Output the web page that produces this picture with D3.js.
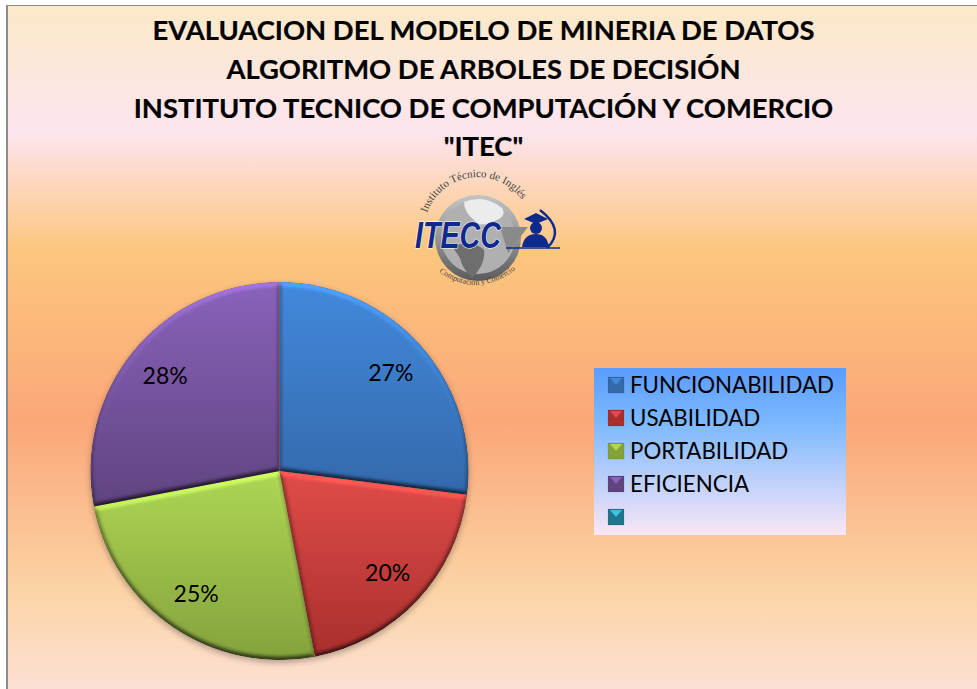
<!DOCTYPE html>
<html><head><meta charset="utf-8">
<script src="https://cdn.jsdelivr.net/npm/d3@7/dist/d3.min.js"></script>
<style>html,body{margin:0;padding:0;background:#fff}svg{display:block}.l{font-family:Lato,"Open Sans",sans-serif}</style>
</head><body><svg id="c" width="977" height="689"></svg>
<script>
const categories=["FUNCIONABILIDAD","USABILIDAD","PORTABILIDAD","EFICIENCIA",""];
const values=[27,20,25,28];
const labels=["27%","20%","25%","28%"];
const titleLines=["EVALUACION DEL MODELO DE MINERIA DE DATOS","ALGORITMO DE ARBOLES DE DECISIÓN","INSTITUTO TECNICO DE COMPUTACIÓN Y COMERCIO","\"ITEC\""];
const sliceTop=["#4289dc","#e04c49","#aed654","#8a62bb","#36c4e0"];
const sliceBottom=["#3469ab","#a92f2d","#84a23c","#5f4480","#20758a"];

const svg=d3.select("#c"),defs=svg.append("defs");
function grad(id,stops){const g=defs.append("linearGradient").attr("id",id).attr("x1",0).attr("x2",0).attr("y1",0).attr("y2",1);
 stops.forEach(([o,c])=>g.append("stop").attr("offset",o).attr("stop-color",c));}
grad("bg",[[0,"#fbe9c8"],[.184,"#fde5ee"],[.357,"#fcc67e"],[.61,"#fba778"],[.86,"#fbd4a6"],[1,"#fde0d5"]]);
grad("lg",[[0,"#5a9cfe"],[.33,"#7db9ff"],[1,"#fae6f6"]]);

svg.append("rect").attr("x",7).attr("y",6).attr("width",970).attr("height",683).attr("fill","url(#bg)");
svg.append("rect").attr("x",6).attr("y",5).attr("width",971).attr("height",1).attr("fill","#8d8d8d");
svg.append("rect").attr("x",6).attr("y",5).attr("width",2).attr("height",684).attr("fill","#8d8d8d");

svg.append("g").attr("class","l").attr("text-anchor","middle").attr("font-weight",700).attr("font-size",27.4).attr("fill","#000").attr("stroke","#000").attr("stroke-width",.2)
 .selectAll("text").data(titleLines).join("text")
 .attr("x",483.5).attr("y",(d,i)=>[40,79,118,156][i]).text(d=>d);

// bevel filter
const f=defs.append("filter").attr("id","bevel").attr("x","-5%").attr("y","-5%").attr("width","110%").attr("height","110%").attr("color-interpolation-filters","sRGB");
f.append("feGaussianBlur").attr("in","SourceAlpha").attr("stdDeviation",2.4).attr("result","b");
const fl=f.append("feDiffuseLighting").attr("in","b").attr("surfaceScale",3.5).attr("diffuseConstant",.89).attr("lighting-color","#fff").attr("result","l");
fl.append("feDistantLight").attr("azimuth",270).attr("elevation",52);
f.append("feComposite").attr("in","l").attr("in2","SourceGraphic").attr("operator","arithmetic").attr("k1",1).attr("k2",0).attr("k3",.3).attr("k4",0).attr("result","m");
f.append("feComposite").attr("in","m").attr("in2","SourceAlpha").attr("operator","in");
const sh=defs.append("filter").attr("id","soft").attr("x","-10%").attr("y","-10%").attr("width","120%").attr("height","120%");
sh.append("feGaussianBlur").attr("stdDeviation",3);

const cx=279.5,cy=471,r=189;
sliceTop.forEach((c,i)=>grad("s"+i,[[0,c],[1,sliceBottom[i]]]));
const pie=d3.pie().sort(null)(values);
const arc=d3.arc().innerRadius(0).outerRadius(r);
const labelR=d3.scaleLinear().domain([0,1]).range([0,r]);
const pg=svg.append("g").attr("transform",`translate(${cx},${cy})`);
pg.append("circle").attr("r",r).attr("fill","#000").attr("opacity",.3).attr("cy",2.5).attr("filter","url(#soft)");
pg.selectAll("path").data(pie).join("path").attr("d",arc).attr("fill",(d,i)=>`url(#s${i})`).attr("filter","url(#bevel)");
pg.selectAll("text").data(pie).join("text").attr("class","l").attr("text-anchor","middle").attr("font-size",23).attr("fill","#000")
 .attr("transform",d=>{const a=(d.startAngle+d.endAngle)/2,k=labelR(.785);return `translate(${Math.sin(a)*k},${-Math.cos(a)*k+8})`})
 .text((d,i)=>labels[i]);

// legend
const lg=svg.append("g");
lg.append("rect").attr("x",594).attr("y",368).attr("width",252).attr("height",167).attr("fill","url(#lg)");
const ly=d3.scalePoint().domain(d3.range(categories.length)).range([385,517]);
const items=lg.selectAll("g").data(categories).join("g").attr("transform",(d,i)=>`translate(608,${ly(i)})`);
items.append("rect").attr("y",-8).attr("width",16).attr("height",16).attr("fill",(d,i)=>sliceBottom[i]).attr("stroke","#0003").attr("stroke-width",.5);
items.append("path").attr("d","M2,-7H14L8,0Z").attr("fill",(d,i)=>sliceTop[i]);
items.append("text").attr("class","l").attr("x",22).attr("y",8).attr("font-size",22.3).attr("fill","#000").text(d=>d);

// logo
const lgo=svg.append("g").attr("transform","translate(478,238)");
grad("globe",[[0,"#c4c4c4"],[.45,"#9a9a9a"],[1,"#5a5a5a"]]);
lgo.append("circle").attr("r",43).attr("fill","url(#globe)");
lgo.append("circle").attr("r",37).attr("cy",-1).attr("fill","#b0b0b0");
lgo.append("path").attr("d","M-14,-36Q6,-44 24,-30Q30,-20 12,-16Q2,-10 -4,-18Q-14,-26 -14,-36Z").attr("fill","#ececec");
lgo.append("path").attr("d","M-26,8Q-4,2 6,12Q8,26 -6,40Q-16,30 -18,20Z").attr("fill","#6e6e6e");
lgo.append("path").attr("d","M22,-11L50,-11L30,15Z").attr("fill","#8a8a8a");
defs.append("path").attr("id","arcTop").attr("d","M-51,-25A54,54 0 0 1 50,-27");
defs.append("path").attr("id","arcBot").attr("d","M-39,34Q0,62 41,29");
lgo.append("text").style("font-family","Liberation Serif").attr("font-size",11).attr("fill","#444").append("textPath").attr("href","#arcTop").text("Instituto Técnico de Inglés");
lgo.append("text").style("font-family","Liberation Serif").attr("font-size",8).attr("fill","#444").append("textPath").attr("href","#arcBot").text("Computación y Comercio");
const navy="#0d2a8c";
lgo.append("text").attr("x",-63).attr("y",10).style("font-family","Liberation Sans").style("paint-order","stroke").attr("font-weight",700).attr("font-style","italic").attr("font-size",36).attr("textLength",86).attr("lengthAdjust","spacingAndGlyphs").attr("fill",navy).attr("stroke","#fff").attr("stroke-width",1.2).text("ITECC");
lgo.append("path").attr("d","M46,-19L58,-25L70,-19L58,-14Z").attr("fill",navy);
lgo.append("circle").attr("cx",58).attr("cy",-10).attr("r",6).attr("fill",navy);
lgo.append("path").attr("d","M44,9Q46,-4 58,-4Q69,-4 71,9Z").attr("fill",navy);
lgo.append("path").attr("d","M28,10H82").attr("stroke",navy).attr("stroke-width",1.5);
lgo.append("path").attr("d","M62,-28Q88,-8 69,10").attr("fill","none").attr("stroke",navy).attr("stroke-width",2.5);
</script></body></html>
